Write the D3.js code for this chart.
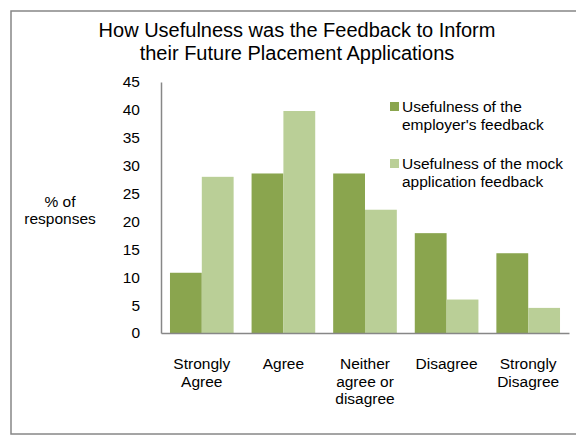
<!DOCTYPE html>
<html>
<head>
<meta charset="utf-8">
<script src="https://cdn.jsdelivr.net/npm/d3@7"></script>
<style>
  body { margin: 0; background: #fff; }
  text { font-family: "Liberation Sans", Arial, sans-serif; fill: #000; }
</style>
</head>
<body>
<div id="chart"></div>
<script>
// data
var categories = [["Strongly", "Agree"], ["Agree"], ["Neither", "agree or", "disagree"], ["Disagree"], ["Strongly", "Disagree"]];
var seriesNames = [["Usefulness of the", "employer's feedback"], ["Usefulness of the mock", "application feedback"]];
var employer = [10.8, 28.6, 28.6, 17.9, 14.3];
var mock = [28.0, 39.8, 22.1, 6.0, 4.5];
var yTicks = [0, 5, 10, 15, 20, 25, 30, 35, 40, 45];
var colors = ["#8aa54e", "#bacf97"];

var width = 576, height = 435,
    plot = {left: 161, right: 569, top: 82, bottom: 333},
    fs = "15.5px";

var svg = d3.select("#chart").append("svg")
    .attr("width", width)
    .attr("height", height);

// outer frame
svg.append("rect")
    .attr("x", 11).attr("y", 11)
    .attr("width", 620).attr("height", 423)
    .attr("fill", "none")
    .attr("stroke", "#878787")
    .attr("stroke-width", 1.5);

// title
var title = svg.append("text")
    .attr("text-anchor", "middle")
    .style("font-size", "20px");
title.append("tspan").attr("x", 297).attr("y", 37).text("How Usefulness was the Feedback to Inform");
title.append("tspan").attr("x", 297).attr("y", 60).text("their Future Placement Applications");

var x = d3.scaleBand()
    .domain(d3.range(categories.length))
    .range([plot.left, plot.right])
    .paddingInner(0.22)
    .paddingOuter(0.11);

var x1 = d3.scaleBand()
    .domain([0, 1])
    .range([0, x.bandwidth()]);

var y = d3.scaleLinear()
    .domain([0, 45])
    .range([plot.bottom, plot.top]);

var series = [employer, mock];

var groups = svg.append("g").selectAll("g")
    .data(series)
    .enter().append("g")
    .attr("fill", function(d, i) { return colors[i]; });

groups.each(function(vals, si) {
    d3.select(this).selectAll("rect")
        .data(vals)
        .enter().append("rect")
        .attr("x", function(d, i) { return x(i) + x1(si); })
        .attr("width", x1.bandwidth())
        .attr("y", function(d) { return y(d); })
        .attr("height", function(d) { return y(0) - y(d); });
});

// y axis
var yAxis = svg.append("g")
    .attr("transform", "translate(" + plot.left + ",0)")
    .call(d3.axisLeft(y).tickValues(yTicks).tickSize(0).tickPadding(21));
yAxis.select(".domain").attr("stroke", "#878787").attr("stroke-width", 1.5);
yAxis.selectAll("text")
    .style("font-family", "Liberation Sans, Arial, sans-serif")
    .style("font-size", fs)
    .attr("fill", "#000");

// x axis
var xAxis = svg.append("g")
    .attr("transform", "translate(0," + plot.bottom + ")")
    .call(d3.axisBottom(x).tickSize(0).tickFormat(""));
xAxis.select(".domain").attr("stroke", "#878787").attr("stroke-width", 1.5);

var xl = svg.append("g").selectAll("text")
    .data(categories)
    .enter().append("text")
    .attr("text-anchor", "middle")
    .style("font-size", fs);
xl.each(function(lines, i) {
    var t = d3.select(this);
    lines.forEach(function(l, j) {
        t.append("tspan")
            .attr("x", x(i) + x.bandwidth() / 2)
            .attr("y", 369 + j * 17.5)
            .text(l);
    });
});

// y axis label
var yl = svg.append("text")
    .attr("text-anchor", "middle")
    .style("font-size", fs);
yl.append("tspan").attr("x", 60).attr("y", 207).text("% of");
yl.append("tspan").attr("x", 60).attr("y", 224).text("responses");

// legend
var legend = svg.append("g").selectAll("g")
    .data(seriesNames)
    .enter().append("g")
    .attr("transform", function(d, i) { return "translate(390," + (102 + i * 57) + ")"; });
legend.append("rect")
    .attr("width", 9).attr("height", 9)
    .attr("fill", function(d, i) { return colors[i]; });
legend.append("text")
    .style("font-size", fs)
    .each(function(lines) {
        var t = d3.select(this);
        lines.forEach(function(l, j) {
            t.append("tspan").attr("x", 12).attr("y", 10 + j * 18).text(l);
        });
    });
</script>
</body>
</html>
